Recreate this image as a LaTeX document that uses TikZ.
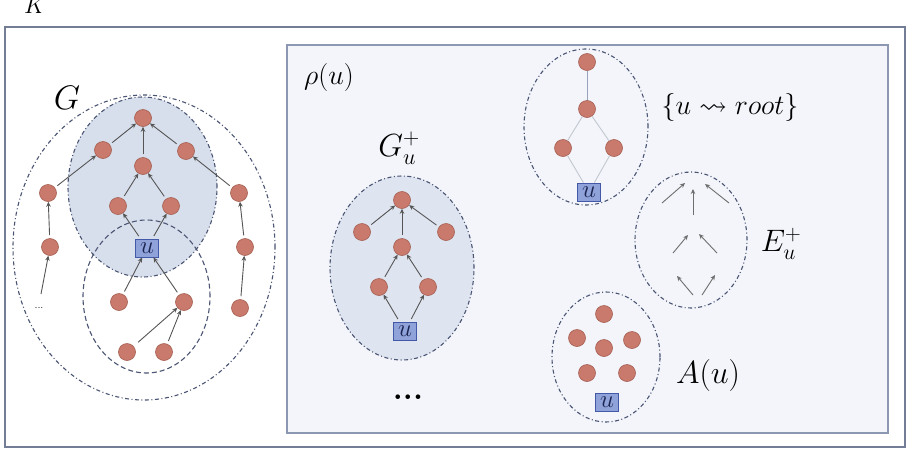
\RequirePackage{fix-cm}
\documentclass[tikz,border=0pt]{standalone}
\usepackage{amssymb}
\usetikzlibrary{arrows.meta}
\definecolor{nodefill}{HTML}{C97A6C}
\definecolor{nodedraw}{HTML}{A45E52}
\definecolor{ufill}{HTML}{8FA3DA}
\definecolor{udraw}{HTML}{4358A6}
\definecolor{utext}{HTML}{1C2450}
\definecolor{edgecol}{HTML}{555555}
\definecolor{ringcol}{HTML}{4A5473}
\definecolor{shadecol}{HTML}{D7DFEC}
\definecolor{panelfill}{HTML}{F3F5FA}
\definecolor{paneldraw}{HTML}{8C98B1}
\definecolor{framedraw}{HTML}{737D95}
\definecolor{linedark}{HTML}{97A2BC}
\definecolor{linelight}{HTML}{C3C7D0}
\newcommand{\myfs}[1]{\fontsize{#1}{#1}\selectfont}
\begin{document}
\begin{tikzpicture}[x=1pt,y=-1pt,
  vert/.style={circle,fill=nodefill,draw=nodedraw,line width=0.6pt,minimum size=17pt,inner sep=0pt},
  ubox/.style={rectangle,fill=ufill,draw=udraw,line width=0.8pt,minimum width=23pt,minimum height=18pt,inner sep=0pt,text=utext,font=\myfs{25}},
  arr/.style={draw=edgecol,line width=0.9pt,-{Stealth[length=5pt,width=4.5pt]},shorten <=3pt},
  farr/.style={draw=edgecol!85,line width=0.9pt,-{Stealth[length=5pt,width=4.5pt]}},
  plainline/.style={draw=#1,line width=0.9pt},
  ring/.style={draw=ringcol,line width=1.1pt,dash pattern=on 4pt off 2.5pt on 1pt off 2.5pt},
  dring/.style={draw=ringcol,line width=1.1pt,dash pattern=on 5pt off 3pt},
  lbl/.style={inner sep=0pt,font=\myfs{#1}},
]
\useasboundingbox (0,0) rectangle (912,450);

% label K (cut by top edge)
\node[lbl=24,anchor=base] (K) at (35,13) {$K$};

% outer frame and panel
\draw[draw=framedraw,line width=2pt,fill=white] (5,27) rectangle (905,447);
\draw[draw=paneldraw,line width=2pt,fill=panelfill] (287,45) rectangle (888,433);

% ---------------- left graph G ----------------
\fill[shadecol] (142.5,187) ellipse [x radius=74.5pt, y radius=90pt];
\draw[ring] (142.5,187) ellipse [x radius=74.5pt, y radius=90pt];
\draw[ring] (144,247.5) ellipse [x radius=131pt, y radius=152.5pt];
\draw[dring] (146.5,296.5) ellipse [x radius=63.5pt, y radius=76.5pt];
\node[lbl=34] (G) at (67,98) {$G$};

\node[vert] (t) at (143,118) {};
\node[vert] (l1) at (103,150) {};
\node[vert] (r1) at (186,151) {};
\node[vert] (m) at (143,166) {};
\node[vert] (fl) at (48,193) {};
\node[vert] (fr) at (239,193) {};
\node[vert] (ml) at (118,206) {};
\node[vert] (mr) at (171,206) {};
\node[ubox] (u) at (147,248) {$u$};
\node[vert] (fl2) at (50,247) {};
\node[vert] (fr2) at (245,247) {};
\node[lbl=11] (dots) at (39,308) {...};
\coordinate (dtop) at (41,294);
\node[vert] (b1) at (119,302) {};
\node[vert] (b2) at (184,302) {};
\node[vert] (fr3) at (240,308) {};
\node[vert] (b3) at (127,352) {};
\node[vert] (b4) at (164,352) {};

\draw[arr] (l1) -- (t);
\draw[arr] (m) -- (t);
\draw[arr] (r1) -- (t);
\draw[arr] (fl) -- (l1);
\draw[arr] (fr) -- (r1);
\draw[arr] (ml) -- (m);
\draw[arr] (mr) -- (m);
\draw[arr] (u) -- (ml);
\draw[arr] (u) -- (mr);
\draw[arr] (fl2) -- (fl);
\draw[arr] (fr2) -- (fr);
\draw[arr,shorten <=0pt] (dtop) -- (fl2);
\draw[arr] (b1) -- (u);
\draw[arr] (b2) -- (u);
\draw[arr] (fr3) -- (fr2);
\draw[arr,shorten <=6pt] (b3) -- (b2);
\draw[arr] (b4) -- (b2);

% ---------------- panel rho(u) ----------------
\node[lbl=28] (rho) at (329,77) {$\rho(u)$};

% G_u^+
\node[lbl=32] (Gu) at (399,148) {$G_u^+$};
\fill[shadecol!80!white] (402,268) ellipse [x radius=72pt, y radius=92pt];
\draw[ring] (402,268) ellipse [x radius=72pt, y radius=92pt];
\node[vert] (t2) at (402,200) {};
\node[vert] (l2) at (362,232) {};
\node[vert] (r2) at (446,232) {};
\node[vert] (m2) at (402,247) {};
\node[vert] (ml2) at (379,287) {};
\node[vert] (mr2) at (428,287) {};
\node[ubox] (u2) at (405,331) {$u$};
\draw[arr] (l2) -- (t2);
\draw[arr] (m2) -- (t2);
\draw[arr] (r2) -- (t2);
\draw[arr] (ml2) -- (m2);
\draw[arr] (mr2) -- (m2);
\draw[arr] (u2) -- (ml2);
\draw[arr] (u2) -- (mr2);
\node[inner sep=0pt,font=\myfs{32}\bfseries] (more) at (408,397) {...};

% {u ~> root}
\draw[ring] (586,127) ellipse [x radius=62pt, y radius=78pt];
\node[vert] (p1) at (587,62) {};
\node[vert] (p2) at (587,109) {};
\node[vert] (p3) at (563,148) {};
\node[vert] (p4) at (614,148) {};
\node[ubox] (pu) at (589,192) {$u$};
\draw[plainline=linedark] (p1) -- (p2);
\draw[plainline=linelight] (p2) -- (p3);
\draw[plainline=linelight] (p2) -- (p4);
\draw[plainline=linelight] (p3) -- (pu);
\draw[plainline=linelight] (p4) -- (pu);
\node[lbl=28] (path) at (730,107) {$\{u \rightsquigarrow root\}$};

% E_u^+
\draw[ring] (691,240) ellipse [x radius=56pt, y radius=68pt];
\coordinate (e1s) at (662,203); \coordinate (e1e) at (685,183);
\coordinate (e2s) at (693,215); \coordinate (e2e) at (693,189);
\coordinate (e3s) at (729,203); \coordinate (e3e) at (705,184);
\coordinate (e4s) at (673,253); \coordinate (e4e) at (688,235);
\coordinate (e5s) at (717,253); \coordinate (e5e) at (699,234);
\coordinate (e6s) at (693,295); \coordinate (e6e) at (677,276);
\coordinate (e7s) at (702,295); \coordinate (e7e) at (715,275);
\draw[farr] (e1s) -- (e1e);
\draw[farr] (e2s) -- (e2e);
\draw[farr] (e3s) -- (e3e);
\draw[farr] (e4s) -- (e4e);
\draw[farr] (e5s) -- (e5e);
\draw[farr] (e6s) -- (e6e);
\draw[farr] (e7s) -- (e7e);
\node[lbl=31] (Eu) at (781,244) {$E_u^+$};

% A(u)
\draw[ring] (606,357) ellipse [x radius=54pt, y radius=65pt];
\node[vert] (a1) at (604,314) {};
\node[vert] (a2) at (577,338) {};
\node[vert] (a3) at (632,340) {};
\node[vert] (a4) at (604,348) {};
\node[vert] (a5) at (587,373) {};
\node[vert] (a6) at (627,373) {};
\node[ubox] (au) at (607,402) {$u$};
\node[lbl=32] (Au) at (708,375) {$A(u)$};
\end{tikzpicture}
\end{document}
